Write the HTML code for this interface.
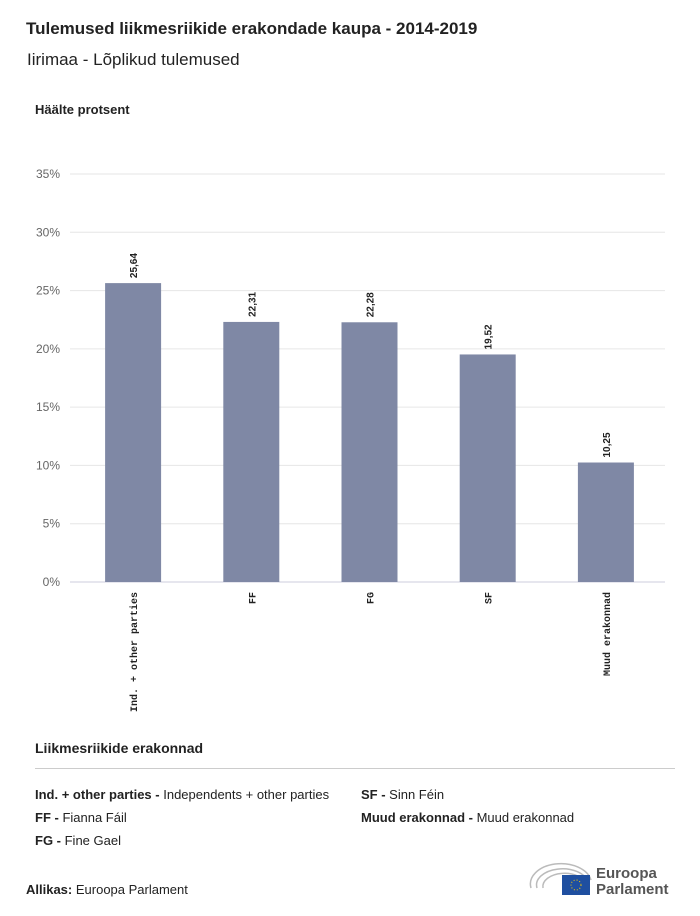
<!DOCTYPE html>
<html><head><meta charset="utf-8"><style>
body{margin:0;width:700px;height:916px;background:#fff;font-family:"Liberation Sans",sans-serif;color:#222;position:relative;overflow:hidden}
.a{position:absolute;white-space:nowrap}
</style></head><body>
<div class="a" style="left:26px;top:19px;font-size:17px;font-weight:bold">Tulemused liikmesriikide erakondade kaupa - 2014-2019</div>
<div class="a" style="left:27px;top:50px;font-size:17px">Iirimaa - Lõplikud tulemused</div>
<div class="a" style="left:35px;top:102px;font-size:13px;font-weight:bold">Häälte protsent</div>
<svg class="a" style="left:0;top:0" width="700" height="720"><g id="g"></g></svg>
<div class="a" style="left:35px;top:740px;font-size:14px;font-weight:bold">Liikmesriikide erakonnad</div>
<div class="a" style="left:35px;top:768px;width:640px;height:1px;background:#ccc"></div>
<div class="a" style="left:35px;top:787px;font-size:13px"><b>Ind. + other parties -</b> Independents + other parties</div>
<div class="a" style="left:35px;top:810px;font-size:13px"><b>FF -</b> Fianna Fáil</div>
<div class="a" style="left:35px;top:833px;font-size:13px"><b>FG -</b> Fine Gael</div>
<div class="a" style="left:361px;top:787px;font-size:13px"><b>SF -</b> Sinn Féin</div>
<div class="a" style="left:361px;top:810px;font-size:13px"><b>Muud erakonnad -</b> Muud erakonnad</div>
<div class="a" style="left:26px;top:882px;font-size:13px"><b>Allikas:</b> Euroopa Parlament</div>
<svg class="a" style="left:528px;top:858px" width="150" height="40">
<g fill="none" stroke="#bbb" stroke-width="1.5"><path d="M3 30 A30 20 0 0 1 63 22"/><path d="M9 30 A24 15 0 0 1 60 24"/><path d="M15 30 A18 11 0 0 1 58 27"/></g>
<rect x="34" y="17" width="28" height="20" fill="#1f4fa0"/><circle cx="48" cy="27" r="5" fill="none" stroke="#fc0" stroke-dasharray="1 2"/>
<text x="68" y="20" font-size="15" font-weight="bold" fill="#555">Euroopa</text><text x="68" y="36" font-size="15" font-weight="bold" fill="#555">Parlament</text></svg>
<script>
const categories=["Ind. + other parties","FF","FG","SF","Muud erakonnad"];
const values=[25.64,22.31,22.28,19.52,10.25];
const valueLabels=["25,64","22,31","22,28","19,52","10,25"];
const ticks=[0,5,10,15,20,25,30,35];
const ns="http://www.w3.org/2000/svg",g=document.getElementById("g");
const y=v=>582-v*(408/35), left=74, band=118.2, x=i=>left+band*(i+0.5);
function el(t,a,txt){const e=document.createElementNS(ns,t);for(const k in a)e.setAttribute(k,a[k]);if(txt!=null)e.textContent=txt;g.appendChild(e);return e;}
ticks.forEach(t=>{
 const l=el("line",{x1:70,x2:665,y1:y(t),y2:y(t),stroke:t?"#e6e6e6":"#ccd",'stroke-width':1});
 
 
 const tx=el("text",{x:60,y:y(t)+4,'text-anchor':'end','font-size':12,fill:'#666','font-family':'Liberation Sans'},t+"%");
 
 
});
values.forEach((v,i)=>{
 const r=el("rect",{x:x(i)-28,y:y(v),width:56,height:582-y(v),fill:"#7f88a5"});
 
 
 const vl=el("text",{transform:`translate(${x(i)+4},${y(v)-5}) rotate(-90)`,'font-size':10,'font-weight':'bold',fill:'#222','font-family':'Liberation Sans'},valueLabels[i]);
 
 
 const cl=el("text",{transform:`translate(${x(i)+4},592) rotate(-90)`,'text-anchor':'end','font-size':10,'font-weight':'bold',fill:'#222','font-family':'Liberation Mono'},categories[i]);
 
 
});
</script>
</body></html>
